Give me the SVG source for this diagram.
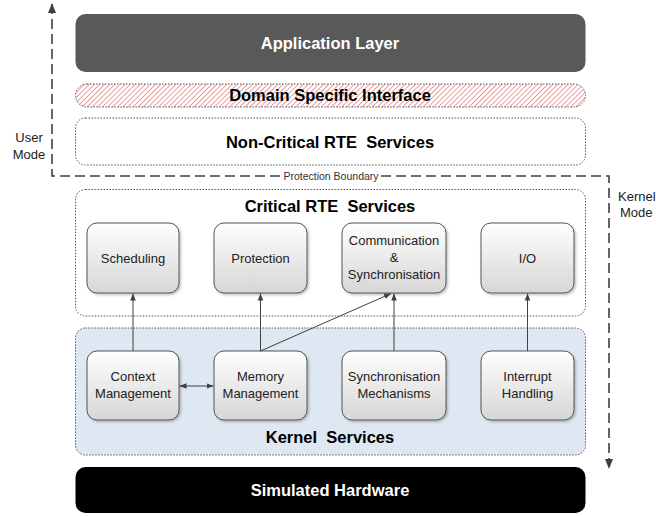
<svg xmlns="http://www.w3.org/2000/svg" width="656" height="516" viewBox="0 0 656 516">
<defs>
<linearGradient id="boxg" x1="0" y1="0" x2="0" y2="1">
<stop offset="0" stop-color="#ffffff"/>
<stop offset="1" stop-color="#d6d6d6"/>
</linearGradient>
<pattern id="hatch" patternUnits="userSpaceOnUse" width="3.6" height="3.6" patternTransform="rotate(45)">
<rect width="3.6" height="3.6" fill="#ffffff"/>
<line x1="0" y1="0" x2="0" y2="3.6" stroke="#e05a5a" stroke-width="1.2"/>
</pattern>
<filter id="sh" x="-10%" y="-10%" width="130%" height="130%">
<feDropShadow dx="1.5" dy="1.5" stdDeviation="1" flood-color="#000" flood-opacity="0.25"/>
</filter>
<marker id="ah" viewBox="0 0 10 10" refX="10" refY="5" markerWidth="7" markerHeight="7" orient="auto-start-reverse" markerUnits="userSpaceOnUse">
<path d="M0,1 L10,5 L0,9 z" fill="#404040"/>
</marker>
</defs>
<style>
text{font-family:"Liberation Sans",Arial,sans-serif;white-space:pre;}
.hd{font-size:16.5px;font-weight:bold;text-anchor:middle;}
.it{font-size:13px;text-anchor:middle;fill:#222;}
.lb{font-size:13px;fill:#222;}
.ib{fill:url(#boxg);stroke:#555;stroke-width:1;filter:url(#sh);}
.dot{stroke:#555;stroke-width:1;stroke-dasharray:1.5 1.5;}
.cn{stroke:#404040;stroke-width:1;fill:none;}
.bd{stroke:#404040;stroke-width:1.6;fill:none;stroke-dasharray:10 5;}
</style>
<rect width="656" height="516" fill="#ffffff"/>

<g id="application-layer">
<rect x="75.5" y="14" width="510" height="58" rx="10" fill="#595959"/>
<text class="hd" x="330" y="49" fill="#ffffff">Application Layer</text>
</g>

<g id="domain-specific-interface">
<rect x="75.5" y="84" width="510" height="23" rx="11.5" fill="url(#hatch)" class="dot"/>
<text class="hd" x="330" y="101" fill="#000">Domain Specific Interface</text>
</g>

<g id="non-critical-rte">
<rect x="75.5" y="118" width="510" height="47" rx="10" fill="#ffffff" class="dot"/>
<text class="hd" x="330" y="147.5" fill="#000" xml:space="preserve">Non-Critical RTE  Services</text>
</g>

<g id="critical-rte">
<rect x="75.5" y="189.5" width="510" height="126.5" rx="10" fill="#ffffff" class="dot"/>
<text class="hd" x="330" y="212" fill="#000" xml:space="preserve">Critical RTE  Services</text>
</g>

<g id="kernel-services">
<rect x="75.5" y="328" width="510" height="127" rx="10" fill="#dfe8f2" class="dot"/>
<text class="hd" x="330" y="443" fill="#000" xml:space="preserve">Kernel  Services</text>
</g>

<g id="simulated-hardware">
<rect x="75.5" y="467" width="510" height="46" rx="10" fill="#000000"/>
<text class="hd" x="330" y="496" fill="#ffffff">Simulated Hardware</text>
</g>

<g id="scheduling">
<rect class="ib" x="87" y="223" width="92" height="70" rx="10"/>
<text class="it" x="133" y="263">Scheduling</text>
</g>
<g id="protection">
<rect class="ib" x="214" y="223" width="93" height="70" rx="10"/>
<text class="it" x="260.5" y="263">Protection</text>
</g>
<g id="communication">
<rect class="ib" x="342" y="223" width="104" height="70" rx="10"/>
<text class="it" x="394" y="245">Communication</text>
<text class="it" x="394" y="262">&amp;</text>
<text class="it" x="394" y="279">Synchronisation</text>
</g>
<g id="io">
<rect class="ib" x="481" y="223" width="93" height="70" rx="10"/>
<text class="it" x="527.5" y="263">I/O</text>
</g>

<g id="context-management">
<rect class="ib" x="87" y="351" width="92" height="69" rx="10"/>
<text class="it" x="133" y="381">Context</text>
<text class="it" x="133" y="398">Management</text>
</g>
<g id="memory-management">
<rect class="ib" x="214" y="351" width="93" height="69" rx="10"/>
<text class="it" x="260.5" y="381">Memory</text>
<text class="it" x="260.5" y="398">Management</text>
</g>
<g id="synchronisation-mechanisms">
<rect class="ib" x="342" y="351" width="104" height="69" rx="10"/>
<text class="it" x="394" y="381">Synchronisation</text>
<text class="it" x="394" y="398">Mechanisms</text>
</g>
<g id="interrupt-handling">
<rect class="ib" x="481" y="351" width="93" height="69" rx="10"/>
<text class="it" x="527.5" y="381">Interrupt</text>
<text class="it" x="527.5" y="398">Handling</text>
</g>

<g id="connectors">
<line class="cn" x1="133" y1="351" x2="133" y2="293.5" marker-end="url(#ah)"/>
<line class="cn" x1="260.5" y1="351" x2="260.5" y2="293.5" marker-end="url(#ah)"/>
<line class="cn" x1="260.5" y1="351" x2="391" y2="293.5" marker-end="url(#ah)"/>
<line class="cn" x1="394" y1="351" x2="394" y2="293.5" marker-end="url(#ah)"/>
<line class="cn" x1="527.5" y1="351" x2="527.5" y2="293.5" marker-end="url(#ah)"/>
<line class="cn" x1="179.5" y1="386" x2="213.5" y2="386" marker-start="url(#ah)" marker-end="url(#ah)"/>
</g>

<g id="protection-boundary">
<path class="bd" d="M52,4 L52,176 L281,176"/>
<path class="bd" d="M381,176 L609,176 L609,467"/>
<path d="M52,3 L48,13 L56,13 z" fill="#404040"/>
<path d="M609,469 L605,459 L613,459 z" fill="#404040"/>
<text x="331" y="179.5" font-size="10.5" text-anchor="middle" fill="#333">Protection Boundary</text>
<text class="lb" x="29" y="142" text-anchor="middle">User</text>
<text class="lb" x="29" y="159" text-anchor="middle">Mode</text>
<text class="lb" x="618" y="201">Kernel</text>
<text class="lb" x="620" y="217">Mode</text>
</g>
</svg>
